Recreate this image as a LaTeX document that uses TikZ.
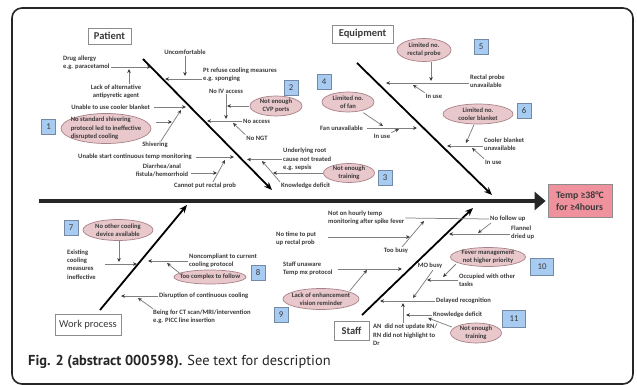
\documentclass[tikz,border=0pt]{standalone}
\usepackage{fontspec}
\setmainfont{Carlito}
\newfontfamily\capfont{PT Sans}
\usepackage{tikz}
\usetikzlibrary{arrows.meta,positioning,calc}
\definecolor{Ink}{HTML}{3A3A3A}
\definecolor{Wire}{HTML}{808080}
\definecolor{Rule}{HTML}{8C8C8C}
\definecolor{OvalFill}{HTML}{E9C8CC}
\definecolor{OvalLine}{HTML}{A98189}
\definecolor{NumFill}{HTML}{A8CBF2}
\definecolor{NumLine}{HTML}{7389A6}
\definecolor{Effect}{HTML}{EF929D}
\newcommand{\lblfont}{\fontsize{6.6}{8.3}\selectfont\bfseries}
\tikzset{
  note/.style={font=\lblfont,text=Ink,inner sep=1pt,align=left},
  oval/.style={note,align=center,path picture={
    \draw[OvalLine,fill=OvalFill,line width=.7pt] let \p1=(path picture bounding box.north east),\p2=(path picture bounding box.south west) in
      (path picture bounding box.center) ellipse [x radius={(\x1-\x2)/2-.5pt},y radius={(\y1-\y2)/2-.5pt}];}},
  numbox/.style={draw=NumLine,fill=NumFill,line width=.7pt,font=\fontsize{8.8}{9}\selectfont,text=Ink,minimum width=14pt,minimum height=15pt,inner sep=0pt},
  headbox/.style={draw=Rule,fill=white,line width=.8pt,font=\fontsize{10.5}{11}\selectfont\bfseries,text=Ink,inner sep=0pt},
  effectbox/.style={draw=Rule,fill=Effect,line width=.8pt,font=\fontsize{9.8}{12.5}\selectfont\bfseries,text=Ink,align=left,inner sep=0pt,minimum width=64pt,minimum height=33pt},
  bone/.style={draw=black,line width=1.8pt,-{Stealth[length=8pt,width=6.5pt]}},
  spine/.style={draw=black!85,line width=4pt,-{Triangle[length=11pt,width=18pt]},shorten >=2pt},
  feed/.style={draw=Wire,line width=.75pt,-{Stealth[length=4pt,width=3.6pt,color=Ink]}},
  plain/.style={draw=Wire,line width=.75pt},
  frame/.style={draw=black!85,line width=1.6pt,rounded corners=10pt}
}
\begin{document}
\begin{tikzpicture}[x=1pt,y=-1pt]
  \useasboundingbox[fill=white] (0,0) rectangle (637,385);
  \draw[frame] (12,8) rectangle (633,384);

  \node[effectbox] (effect) at (580,201) {Temp ≥38°C\\for ≥4hours};
  \coordinate (tail) at (39,201);
  \draw[spine] (tail) -- (effect.west);

  \coordinate (pA) at (143,59);  \coordinate (pB) at (272,190);
  \coordinate (eA) at (357,63);  \coordinate (eB) at (492,195);
  \coordinate (wA) at (100,310); \coordinate (wB) at (187,205);
  \coordinate (sA) at (362,315); \coordinate (sB) at (473,208);
  \draw[bone] (pA) -- (pB);
  \draw[bone] (eA) -- (eB);
  \draw[bone] (wA) -- (wB);
  \draw[bone] (sA) -- (sB);

  \node[headbox,minimum width=43pt,minimum height=16pt] (patient) at (109.5,36) {Patient};
  \node[headbox,minimum width=61pt,minimum height=18pt] (equipment) at (362.5,34) {Equipment};
  \node[headbox,minimum width=66pt,minimum height=21pt,font=\fontsize{10.5}{11}\selectfont] (workproc) at (88,325) {Work process};
  \node[headbox,minimum width=35pt,minimum height=19pt] (staff) at (351.5,331) {Staff};

  \node[note,anchor=west] (drug) at (62,63) {Drug allergy\\e.g. paracetamol};
  \coordinate (drugend) at (151,67);
  \draw[feed] (drug.east |- drugend) -- (drugend);
  \node[note,align=center] (lackalt) at (116,92) {Lack of alternative\\antipyretic agent};
  \coordinate (lackend) at (129,69);
  \draw[feed] (lackalt.north -| lackend) -- (lackend);
  \node[note] (uncomf) at (185,52) {Uncomfortable};
  \coordinate (uncomfend) at (185,76);
  \draw[feed] (uncomf.south) -- (uncomfend);
  \node[note,anchor=west] (refuse) at (202,74.5) {Pt refuse cooling measures\\e.g. sponging};
  \coordinate (refuseend) at (165,79);
  \draw[feed] (refuse.west |- refuseend) -- (refuseend);
  \node[note] (noiv) at (226,91) {No IV access};
  \coordinate (noivend) at (226,119);
  \draw[feed] (noiv.south) -- (noivend);
  \node[oval,minimum width=53pt,minimum height=21pt] (cvp) at (276,106) {Not enough\\CVP ports};
  \draw[feed,shorten >=1pt] (cvp.west) -- (cvp.west -| noivend);
  \node[note,anchor=west] (noaccess) at (242,121) {No access};
  \coordinate (noaccessend) at (207,121);
  \draw[feed] (noaccess.west) -- (noaccessend);
  \node[note] (nongt) at (257,138) {No NGT};
  \coordinate (nongtend) at (233,123);
  \draw[feed] (nongt.north west) -- (nongtend);
  \node[note,anchor=east] (cooler) at (151,107) {Unable to use cooler blanket};
  \coordinate (coolerend) at (186,107);
  \draw[feed,shorten <=3pt] (cooler.east) -- (coolerend);
  \node[oval,align=left,minimum width=91pt,minimum height=31pt] (shivproto) at (106,128.5) {No standard shivering\\protocol led to ineffective\\disrupted cooling};
  \node[note] (shivering) at (155,145) {Shivering};
  \coordinate (shiverend) at (181,110);
  \draw[feed] ([shift={(6,0)}]shivering.north) -- (shiverend);
  \coordinate (protoend) at (172,122);
  \draw[feed,shorten <=4pt] (shivproto.east |- protoend) -- (protoend);
  \node[note,anchor=east] (monitor) at (193,157) {Unable start continuous temp monitoring};
  \coordinate (monitorend) at (234,157);
  \draw[feed,shorten <=3pt] (monitor.east) -- (monitorend);
  \node[note,align=center] (diarrhea) at (162,170) {Diarrhea/anal\\fistula/hemorrhoid};
  \coordinate (diarrheaend) at (217,173);
  \draw[feed,shorten <=2pt] (diarrhea.east |- diarrheaend) -- (diarrheaend);
  \node[note] (rectalprob) at (205,186) {Cannot put rectal prob};
  \coordinate (rectalend) at (225,160);
  \draw[feed] ([shift={(8,0)}]rectalprob.north) -- (rectalend);
  \node[note,anchor=west] (rootcause) at (282,159.5) {Underlying root\\cause not treated\\e.g. sepsis};
  \coordinate (rootend) at (247,159.5);
  \draw[feed] (rootcause.west) -- (rootend);
  \node[note,anchor=west] (knowdef) at (280,186) {Knowledge deficit};
  \coordinate (knowend) at (262,161);
  \draw[feed] (knowdef.north west) -- (knowend);
  \node[oval,minimum width=52pt,minimum height=20pt] (training) at (349,173) {Not enough\\training};
  \coordinate (trainend) at (273,173);
  \draw[feed] (training.west) -- (trainend);

  \node[oval,minimum width=55pt,minimum height=24pt] (probeoval) at (424,50) {Limited no.\\rectal probe};
  \coordinate (probeend) at (431,81);
  \draw[feed] (probeoval.south -| probeend) -- (probeend);
  \node[note,anchor=west] (probeunav) at (469,81) {Rectal probe\\unavailable};
  \coordinate (probelineend) at (386,83);
  \draw[feed] (probeunav.west |- probelineend) -- (probelineend);
  \node[note] (inuseA) at (434,96) {In use};
  \coordinate (inuseAend) at (413,85);
  \draw[feed] (inuseA.north west) -- (inuseAend);
  \node[oval,minimum width=53pt,minimum height=21pt] (fanoval) at (348,102) {Limited no.\\of fan};
  \coordinate (fanend) at (383,126);
  \draw[feed] (fanoval.-35) -- (fanend);
  \node[note,anchor=east] (fanunav) at (364,128) {Fan unavailable};
  \coordinate (fanlineend) at (417,128);
  \draw[feed,shorten <=3pt] (fanunav.east) -- (fanlineend);
  \node[note] (inuseB) at (382,136) {In use};
  \coordinate (inuseBend) at (399,129);
  \draw[feed] (inuseB.north east) -- (inuseBend);
  \node[oval,minimum width=71pt,minimum height=21pt] (blanketoval) at (478,114) {Limited no.\\cooler blanket};
  \coordinate (blanketend) at (466,143);
  \draw[feed] ([shift={(-4,0)}]blanketoval.south) -- (blanketend);
  \node[note,anchor=west] (blanketunav) at (483,144) {Cooler blanket\\unavailable};
  \coordinate (blanketlineend) at (447,146);
  \draw[feed] (blanketunav.west |- blanketlineend) -- (blanketlineend);
  \node[note,anchor=west] (inuseC) at (484,162) {In use};
  \coordinate (inuseCend) at (472,148);
  \draw[feed] (inuseC.north west) -- (inuseCend);

  \node[oval,minimum width=71pt,minimum height=22pt] (othercool) at (118,230) {No other cooling\\device available};
  \coordinate (othercoolend) at (119,262);
  \draw[feed] (othercool.south -| othercoolend) -- (othercoolend);
  \node[note,anchor=west] (existing) at (66,264.5) {Existing\\cooling\\measures\\ineffective};
  \coordinate (existingend) at (137,264);
  \draw[feed,shorten <=8pt] (existing.east |- existingend) -- (existingend);
  \node[note,anchor=west] (noncompliant) at (188,261) {Noncompliant to current\\cooling protocol};
  \coordinate (noncompend) at (148,261);
  \draw[feed] (noncompliant.west) -- (noncompend);
  \node[oval,minimum width=73pt,minimum height=15pt] (complex) at (210,277) {Too complex to follow};
  \coordinate (complexend) at (167,263);
  \draw[feed] ([shift={(6,-4)}]complex.west) -- (complexend);
  \node[note,anchor=west] (disruption) at (158,296) {Disruption of continuous cooling};
  \coordinate (disruptend) at (121,296);
  \draw[feed] (disruption.west) -- (disruptend);
  \node[note,anchor=west] (ctscan) at (152,317) {Being for CT scan/MRI/intervention\\e.g. PICC line insertion};
  \coordinate (ctend) at (138,298);
  \draw[feed] ([shift={(1,0)}]ctscan.north west) -- (ctend);

  \node[note,anchor=west] (hourly) at (327,218) {Not on hourly temp\\monitoring after spike fever};
  \node[note,anchor=west] (nofollow) at (489,219) {No follow up};
  \draw[plain] (hourly.east) -- (nofollow.west);
  \node[note,anchor=west] (notime) at (275,238.5) {No time to put\\up rectal prob};
  \coordinate (notimeend) at (410,237);
  \draw[feed,shorten <=11pt] (notime.east |- notimeend) -- (notimeend);
  \node[note] (toobusy) at (396,251) {Too busy};
  \coordinate (toobusyend) at (424,221);
  \draw[feed] ([shift={(6,0)}]toobusy.north) -- (toobusyend);
  \node[note,anchor=west] (unaware) at (282,268.5) {Staff unaware\\Temp mx protocol};
  \coordinate (unawareend) at (402,269);
  \draw[feed,shorten <=4pt] (unaware.east |- unawareend) -- (unawareend);
  \node[oval,minimum width=77pt,minimum height=22pt] (reminder) at (321,299) {Lack of enhancement\\vision reminder};
  \coordinate (reminderend) at (367,270);
  \draw[feed] ([shift={(-10,3)}]reminder.north east) -- (reminderend);
  \node[note] (mobusy) at (430,266) {MO busy};
  \coordinate (mobusyend) at (413,298);
  \draw[feed] ([shift={(3,0)}]mobusy.south) -- (mobusyend);
  \node[note,anchor=west] (flannel) at (510,232.5) {Flannel\\dried up};
  \coordinate (flannelend) at (449,234);
  \draw[feed] (flannel.west |- flannelend) -- (flannelend);
  \coordinate (nofollowend) at (478,233);
  \draw[feed] ([shift={(2,0)}]nofollow.south west) -- (nofollowend);
  \node[oval,minimum width=76pt,minimum height=20pt] (priority) at (488,257) {Fever management\\not higher priority};
  \coordinate (priorityend) at (443,277);
  \draw[feed] ([shift={(6,-3)}]priority.south west) -- (priorityend);
  \node[note,anchor=west] (occupied) at (458,280) {Occupied with other\\tasks};
  \coordinate (occupiedend) at (427,280);
  \draw[feed] (occupied.west) -- (occupiedend);
  \node[note,anchor=west] (delayed) at (435,301) {Delayed recognition};
  \coordinate (delayedend) at (380,301);
  \draw[feed] (delayed.west) -- (delayedend);
  \node[note,anchor=north west] (notupdate) at (372,323) {AN\ \ did not update RN/\\RN did not highlight to\\Dr};
  \coordinate (notupdateend) at (403,303);
  \draw[feed] (notupdate.north -| notupdateend) -- (notupdateend);
  \node[note,anchor=west] (knowdefB) at (432,315) {Knowledge deficit};
  \coordinate (knowBend) at (406,315);
  \draw[feed] (knowdefB.west) -- (knowBend);
  \node[oval,minimum width=52pt,minimum height=21pt] (trainingB) at (476,333) {Not enough\\training};
  \coordinate (trainBend) at (428,318);
  \draw[feed] ([shift={(2,-6)}]trainingB.west) -- (trainBend);

  \node[numbox] (num1) at (48.5,126.5) {1};
  \node[numbox] (num2) at (291,88) {2};
  \node[numbox] (num3) at (385,178) {3};
  \node[numbox] (num4) at (324,82) {4};
  \node[numbox] (num5) at (481,47) {5};
  \node[numbox] (num6) at (524,111) {6};
  \node[numbox] (num7) at (71,228) {7};
  \node[numbox] (num8) at (258,273) {8};
  \node[numbox] (num9) at (281,315) {9};
  \node[numbox,minimum width=23pt,minimum height=17pt] (num10) at (542,267) {10};
  \node[numbox,minimum width=23pt,minimum height=17pt] (num11) at (514,319) {11};

  \node[anchor=west,font=\capfont\fontsize{14.4}{16}\selectfont,text=black!85,inner sep=0pt] (caption) at (28,362) {\textbf{Fig. 2 (abstract 000598).} See text for description};
\end{tikzpicture}
\end{document}
